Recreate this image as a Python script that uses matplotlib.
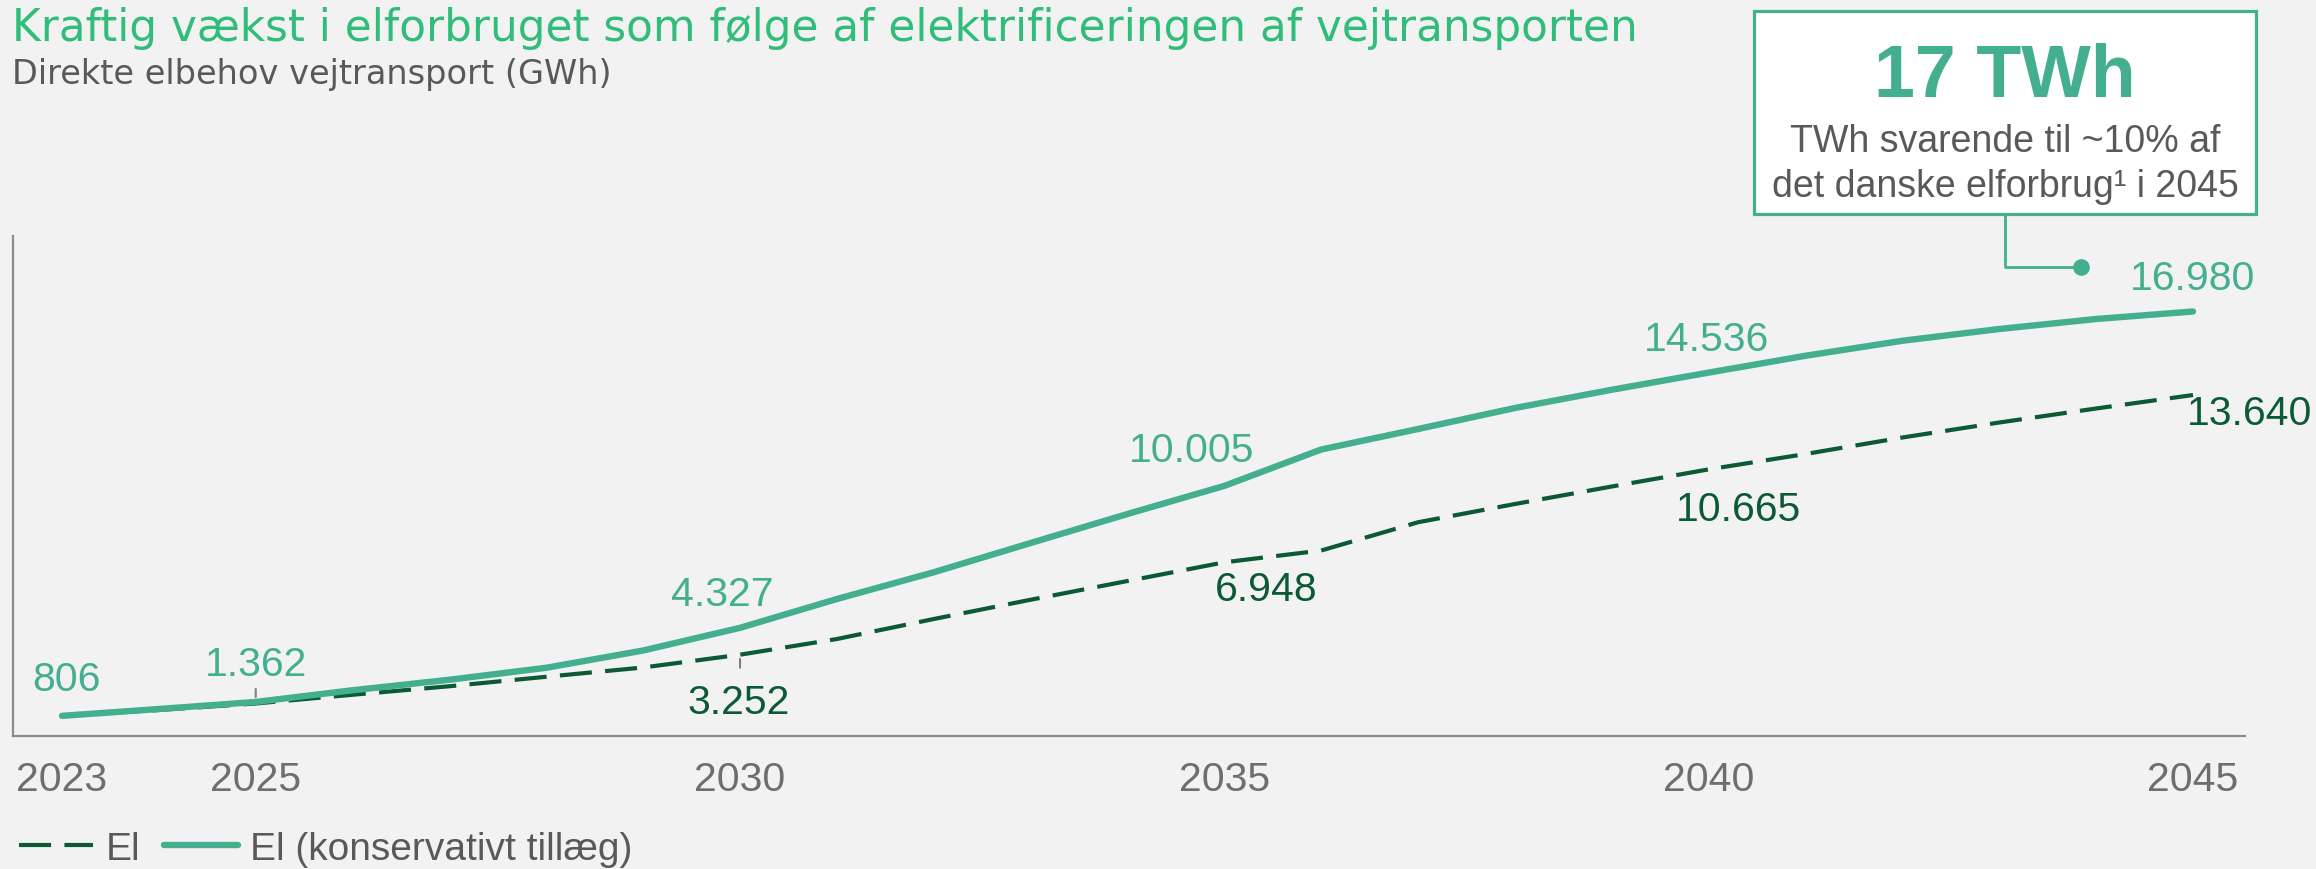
import matplotlib
matplotlib.use("Agg")
import matplotlib.pyplot as plt
import matplotlib.font_manager as fm
from matplotlib.patches import Rectangle
from matplotlib.lines import Line2D

# ---------------- data ----------------
years = list(range(2023, 2046))
el = [806, 1040, 1300, 1650, 1990, 2370, 2740, 3252, 3880, 4680, 5450, 6200,
      6948, 7420, 8550, 9280, 9980, 10665, 11280, 11940, 12540, 13100, 13640]
el_kons = [806, 1080, 1362, 1830, 2250, 2730, 3420, 4327, 5480, 6550, 7720, 8880,
           10005, 11460, 12280, 13120, 13850, 14536, 15210, 15810, 16280, 16680, 16980]
xticks = [2023, 2025, 2030, 2035, 2040, 2045]
label_years_kons = [2023, 2025, 2030, 2035, 2040, 2045]
label_years_el = [2030, 2035, 2040, 2045]
series_names = ["El", "El (konservativt tillæg)"]
title = "Kraftig vækst i elforbruget som følge af elektrificeringen af vejtransporten"
subtitle = "Direkte elbehov vejtransport (GWh)"
box_big = "17 TWh"
box_lines = ["TWh svarende til ~10% af", "det danske elforbrug¹ i 2045"]

# ---------------- style ----------------
W, H = 2316, 870
BG = "#F2F2F2"
TEAL = "#43AF8F"
DARK = "#0B5A34"
TITLE_GREEN = "#2FBD79"
GRAY_TXT = "#595959"
TICK_GRAY = "#6E6E70"
SPINE = "#8C8C8C"

names = {f.name for f in fm.fontManager.ttflist}
REG = ["Liberation Sans", "DejaVu Sans"]
if "Liberation Sans Narrow" in names:
    NAR = ["Liberation Sans Narrow", "DejaVu Sans"]
    sz_tick, sz_leg, sz_box = 33.5, 34, 31
    leg_kw = dict(handlelength=1.6, handletextpad=0.27, columnspacing=0.5)
else:
    NAR = REG
    sz_tick, sz_leg, sz_box = 29.5, 28, 27
    leg_kw = dict(handlelength=1.9, handletextpad=0.32, columnspacing=0.62)

fig = plt.figure(figsize=(W / 100, H / 100), dpi=100)
fig.patch.set_facecolor(BG)

def fx(x):
    return x / W

def fy(y):
    return 1 - y / H

ax = fig.add_axes([fx(13), fy(737), (2245 - 13) / W, 500 / H])
ax.set_facecolor(BG)

px_per_year = (2193 - 62) / 22
ax.set_xlim(2023 - 49 / px_per_year, 2045 + 52 / px_per_year)
ax.set_ylim(0, 20000)

ax.plot(years, el, color=DARK, lw=3.0, dashes=(7.7, 3.2), label=series_names[0], zorder=3)
ax.plot(years, el_kons, color=TEAL, lw=4.6, solid_capstyle="round",
        solid_joinstyle="round", label=series_names[1], zorder=4)

for s in ["top", "right"]:
    ax.spines[s].set_visible(False)
for s in ["left", "bottom"]:
    ax.spines[s].set_color(SPINE)
    ax.spines[s].set_linewidth(1.6)
ax.set_yticks([])
ax.set_xticks(xticks)
ax.set_xticklabels([str(t) for t in xticks], family=NAR, fontsize=sz_tick,
                   color=TICK_GRAY)
ax.tick_params(axis="x", length=0, pad=17)

def fmt(v):
    return f"{v:,}".replace(",", ".")

# label offsets in pixels (dx, baseline dy up), alignment
kons_off = {2023: (4, 26, "center"), 2025: (0, 27, "center"), 2030: (-18, 23, "center"),
            2035: (-33, 25, "center"), 2040: (-2, 23, "center"), 2045: (0, 23, "center")}
el_off = {2030: (-1, -58, "center"), 2035: (42, -38, "center"),
          2040: (30, -51, "center"), 2045: (-6, -29, "left")}

for yr in label_years_kons:
    v = el_kons[years.index(yr)]
    dx, dy, ha = kons_off[yr]
    ax.annotate(fmt(v), xy=(yr, v), xytext=(dx, dy), textcoords="offset pixels",
                ha=ha, va="baseline", fontsize=29.5, color=TEAL, family=REG,
                annotation_clip=False, zorder=5)
for yr in label_years_el:
    v = el[years.index(yr)]
    dx, dy, ha = el_off[yr]
    ax.annotate(fmt(v), xy=(yr, v), xytext=(dx, dy), textcoords="offset pixels",
                ha=ha, va="baseline", fontsize=29.5, color=DARK, family=REG,
                annotation_clip=False, zorder=5)

# small leader ticks
v25 = el_kons[years.index(2025)]
ax.annotate("", xy=(2025, v25), xytext=(0, 13), textcoords="offset pixels",
            arrowprops=dict(arrowstyle="-", color="#7F7F7F", lw=1.5, shrinkA=0, shrinkB=3.5))
v30 = el[years.index(2030)]
ax.annotate("", xy=(2030, v30), xytext=(0, -13), textcoords="offset pixels",
            arrowprops=dict(arrowstyle="-", color="#7F7F7F", lw=1.5, shrinkA=0, shrinkB=3.0))

# legend
leg = ax.legend(loc="center left", bbox_to_anchor=(fx(19), fy(850)),
                bbox_transform=fig.transFigure, ncol=2, frameon=False,
                prop={"family": NAR, "size": sz_leg}, labelcolor=GRAY_TXT,
                borderpad=0, borderaxespad=0, **leg_kw)

# titles
fig.text(fx(12), fy(41), title, fontsize=31.5, color=TITLE_GREEN, family="DejaVu Sans",
         va="baseline", ha="left")
fig.text(fx(12), fy(84), subtitle, fontsize=24.2, color=GRAY_TXT, family="DejaVu Sans",
         va="baseline", ha="left")

# annotation box
box = Rectangle((fx(1754), fy(215)), (2256 - 1754) / W, (215 - 12) / H,
                transform=fig.transFigure, facecolor="white", edgecolor=TEAL,
                lw=2.3, zorder=5)
fig.add_artist(box)
fig.text(fx(2005), fy(97), box_big, fontsize=53, fontweight="bold", color=TEAL,
         family=REG, ha="center", va="baseline", zorder=6)
fig.text(fx(2005), fy(152), box_lines[0], fontsize=sz_box, color=GRAY_TXT,
         family=NAR, ha="center", va="baseline", zorder=6)
fig.text(fx(2005), fy(197), box_lines[1], fontsize=sz_box, color=GRAY_TXT,
         family=NAR, ha="center", va="baseline", zorder=6)
conn = Line2D([fx(2005), fx(2005), fx(2081)], [fy(216), fy(268), fy(268)],
              transform=fig.transFigure, color=TEAL, lw=2.0, zorder=5)
fig.add_artist(conn)
dot = Line2D([fx(2081)], [fy(268)], transform=fig.transFigure, marker="o",
             ms=11, color=TEAL, zorder=5)
fig.add_artist(dot)

fig.savefig("out.png", dpi=100, facecolor=BG)
